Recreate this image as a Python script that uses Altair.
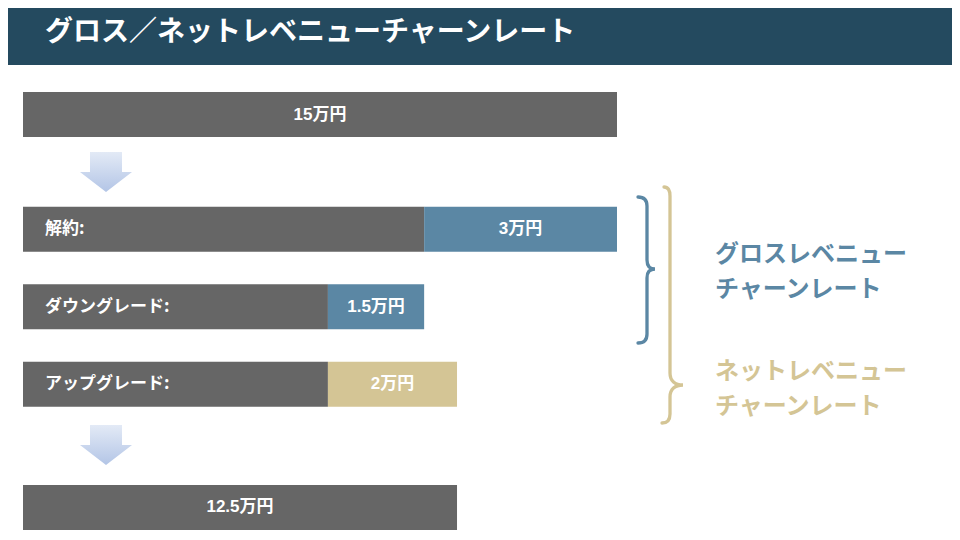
import altair as alt
import pandas as pd

# ---- data ----
row_ids = ["total", "cancel", "down", "up", "result"]
row_slot = [0.0, 1.48, 2.48, 3.48, 5.07]
row_names = ["", "解約:", "ダウングレード:", "アップグレード:", ""]

seg_row = ["total", "cancel", "cancel", "down", "down", "up", "up", "result"]
seg_start = [0, 0, 10.13, 0, 7.70, 0, 7.70, 0]
seg_end = [15, 10.13, 15, 7.70, 10.13, 7.70, 10.96, 10.96]
seg_kind = ["base", "base", "gross", "base", "gross", "base", "net", "base"]
seg_label = ["15万円", "", "3万円", "", "1.5万円", "", "2万円", "12.5万円"]

arrow_x = [2.096, 2.096]
arrow_slot = [0.742, 4.265]

title_text = "グロス／ネットレベニューチャーンレート"
gross_lines = ["グロスレベニュー", "チャーンレート"]
net_lines = ["ネットレベニュー", "チャーンレート"]

# ---- style ----
FONT = "Noto Sans CJK JP"
NUMFONT = "Liberation Sans, Noto Sans CJK JP"
GREY = "#666666"
BLUE = "#5B87A4"
TAN = "#D4C595"
HEADER = "#244A5F"
W, H = 944, 524

slot_of = dict(zip(row_ids, row_slot))
seg = pd.DataFrame({
    "row": seg_row, "start": seg_start, "end": seg_end,
    "kind": seg_kind, "label": seg_label,
})
seg["slot"] = seg["row"].map(slot_of)
seg["top"] = seg["slot"] - 0.29
seg["bot"] = seg["slot"] + 0.29
seg["mid"] = (seg["start"] + seg["end"]) / 2

rows = pd.DataFrame({"row": row_ids, "slot": row_slot, "name": row_names, "x0": 0})
arrows = pd.DataFrame({"x": arrow_x, "slot": arrow_slot})
one = pd.DataFrame({"k": [0]})

xs = alt.Scale(domain=[0, 15], range=[15, 609])
ys = alt.Scale(domain=[-1.3742, 5.3871], range=[0, H])

header = alt.Chart(one).mark_rect(color=HEADER).encode(
    x=alt.value(0), x2=alt.value(W), y=alt.value(0), y2=alt.value(57)
)
title = alt.Chart(one).mark_text(
    text=title_text, align="left", baseline="middle", font=FONT,
    fontSize=28, fontWeight="bold", color="white"
).encode(x=alt.value(37), y=alt.value(25))

bars = alt.Chart(seg).mark_rect().encode(
    x=alt.X("start:Q", scale=xs, axis=None),
    x2="end:Q",
    y=alt.Y("top:Q", scale=ys, axis=None),
    y2="bot:Q",
    color=alt.Color("kind:N", scale=alt.Scale(domain=["base", "gross", "net"],
                                               range=[GREY, BLUE, TAN]), legend=None),
)
seg_text = alt.Chart(seg).mark_text(
    font=NUMFONT, fontSize=17, fontWeight="bold", color="white", baseline="middle"
).encode(
    x=alt.X("mid:Q", scale=xs, axis=None),
    y=alt.Y("slot:Q", scale=ys, axis=None),
    text="label:N",
)
row_text = alt.Chart(rows).mark_text(
    font=FONT, fontSize=17, fontWeight="bold", color="white",
    align="left", baseline="middle", dx=22
).encode(
    x=alt.X("x0:Q", scale=xs, axis=None),
    y=alt.Y("slot:Q", scale=ys, axis=None),
    text="name:N",
)

arrow_path = "M -16 -20 L 16 -20 L 16 0 L 26 0 L 0 20 L -26 0 L -16 0 Z"
grad = alt.Gradient(
    gradient="linear", x1=0, y1=0, x2=0, y2=1,
    stops=[alt.GradientStop(color="#E3EAF6", offset=0),
           alt.GradientStop(color="#B3C5E6", offset=1)],
)
arrow_marks = alt.Chart(arrows).mark_point(
    shape=arrow_path, size=4, filled=True, fill=grad, opacity=1, strokeWidth=0
).encode(
    x=alt.X("x:Q", scale=xs, axis=None),
    y=alt.Y("slot:Q", scale=ys, axis=None),
)

blue_brace = ("M -9 -72 C -3 -72 0 -69 0 -63 L 0 -9 C 0 -3 3 0 8 0 "
              "C 3 0 0 3 0 9 L 0 65 C 0 71 -3 74 -9 74")
tan_brace = ("M -6 -198 C -2 -198 0 -195 0 -189 L 0 -12 C 0 -4 5 0 13 0 "
             "C 5 0 0 4 0 12 L 0 29 C 0 35 -3 38 -8 38")
brace1 = alt.Chart(one).mark_point(
    shape=blue_brace, size=4, filled=False, stroke=BLUE, strokeWidth=3.3,
    opacity=1, strokeCap="round"
).encode(x=alt.value(639), y=alt.value(261))
brace2 = alt.Chart(one).mark_point(
    shape=tan_brace, size=4, filled=False, stroke=TAN, strokeWidth=3.3,
    opacity=1, strokeCap="round"
).encode(x=alt.value(662), y=alt.value(377))

def label(text, color, y):
    return alt.Chart(one).mark_text(
        text=text, align="left", baseline="middle", font=FONT, fontSize=24,
        fontWeight="bold", color=color
    ).encode(x=alt.value(707), y=alt.value(y))

labels = [
    label(gross_lines[0], BLUE, 247), label(gross_lines[1], BLUE, 282),
    label(net_lines[0], TAN, 364), label(net_lines[1], TAN, 399),
]

chart = alt.layer(
    header, title, bars, seg_text, row_text, arrow_marks, brace1, brace2, *labels
).properties(
    width=W, height=H, padding=0, autosize=alt.AutoSizeParams(type="none")
).configure_view(stroke=None)

chart.save("out.html", embed_options={"renderer": "svg", "actions": False})
